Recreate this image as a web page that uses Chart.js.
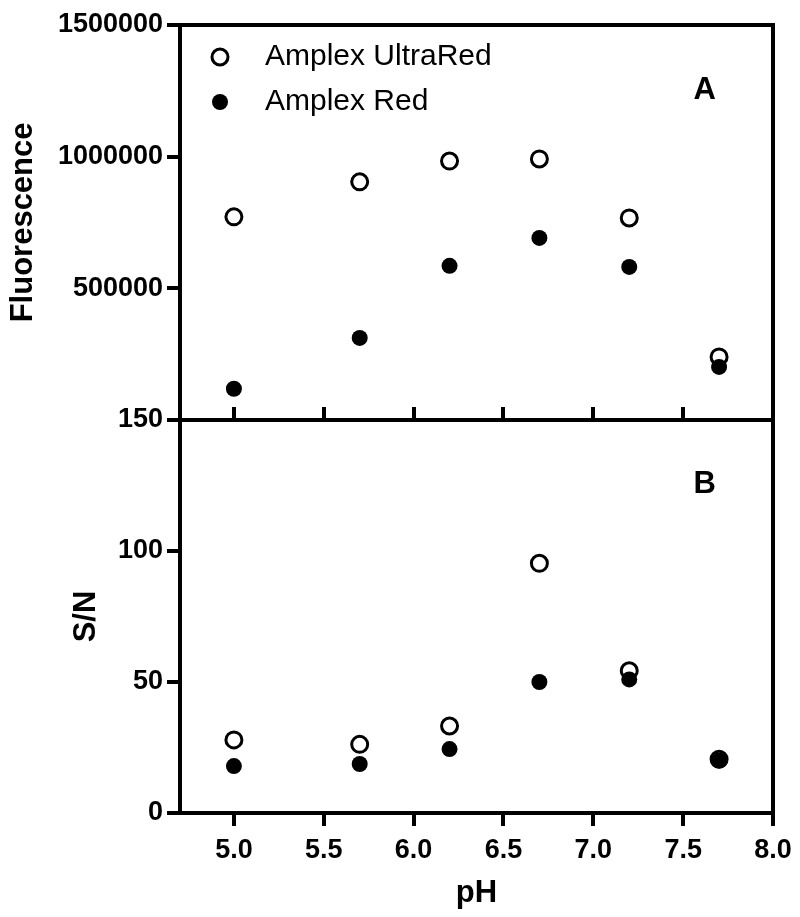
<!DOCTYPE html>
<html>
<head>
<meta charset="utf-8">
<script src="https://cdn.jsdelivr.net/npm/chart.js@4.4.0/dist/chart.umd.min.js"></script>
<style>
  html, body { margin: 0; padding: 0; background: #fff; }
  #wrap { position: relative; width: 800px; height: 917px; overflow: hidden; }
  #wrap canvas { position: absolute; left: 0; }
  #panelA { top: 0; }
  #panelB { top: 395px; }
</style>
</head>
<body>
<div id="wrap">
  <canvas id="panelA" width="800" height="440"></canvas>
  <canvas id="panelB" width="800" height="522"></canvas>
</div>
<script>
// Data
const phValues = [5.0, 5.7, 6.2, 6.7, 7.2, 7.7];
const fluorUltraRed = [771000, 904000, 983000, 991000, 767000, 239000];
const fluorRed = [118000, 311000, 585000, 691000, 581000, 201000];
const snUltraRed = [27.9, 26.2, 33.2, 95.3, 54.3, 20.5];
const snRed = [17.9, 18.7, 24.4, 50.0, 51.0, 20.0];
const seriesLabels = ['Amplex UltraRed', 'Amplex Red'];
const xTicks = [5.0, 5.5, 6.0, 6.5, 7.0, 7.5, 8.0];
const fluorTicks = [0, 500000, 1000000, 1500000];
const snTicks = [0, 50, 100, 150];

const FONT = '"Liberation Sans", Arial, Helvetica, sans-serif';
Chart.defaults.font.family = FONT;
Chart.defaults.color = '#000';

function toPoints(xs, ys) {
    return xs.map((x, i) => ({ x: x, y: ys[i] }));
}

// open circles (UltraRed) go under filled ones (Red)
function makeDatasets(openVals, filledVals) {
    return [
        {
            label: seriesLabels[0],
            data: toPoints(phValues, openVals),
            pointStyle: 'circle',
            pointRadius: 8,
            pointBorderWidth: 3,
            backgroundColor: '#fff',
            borderColor: '#000',
            order: 2
        },
        {
            label: seriesLabels[1],
            data: toPoints(phValues, filledVals),
            pointStyle: 'circle',
            pointRadius: 8,
            pointBorderWidth: 0,
            backgroundColor: '#000',
            borderColor: '#000',
            order: 1
        }
    ];
}

const tickFont = { size: 27, weight: 'bold' };
const titleFont = { size: 31, weight: 'bold' };

// border only axis (used for the frame lines)
function frameAxis(position, min, max, fitProp) {
    return {
        type: 'linear',
        position: position,
        min: min,
        max: max,
        ticks: { display: false },
        grid: { display: false },
        border: { width: 4, color: '#000' },
        afterFit: s => { s[fitProp] = 0; }
    };
}

const panelLabel = {
    id: 'panelLabel',
    afterDraw(chart, args, opts) {
        const a = chart.chartArea;
        const ctx = chart.ctx;
        ctx.save();
        ctx.font = 'bold 31px ' + FONT;
        ctx.fillStyle = '#000';
        ctx.textAlign = 'center';
        ctx.textBaseline = 'middle';
        ctx.fillText(opts.text, a.left + 0.885 * (a.right - a.left), a.top + 0.165 * (a.bottom - a.top));
        ctx.restore();
    }
};

const insideLegend = {
    id: 'insideLegend',
    afterDraw(chart, args, opts) {
        if (!opts.show) return;
        const a = chart.chartArea;
        const ctx = chart.ctx;
        ctx.save();
        chart.data.datasets.forEach((ds, i) => {
            const cy = a.top + 32 + i * 45;
            const cx = a.left + 40;
            ctx.beginPath();
            ctx.arc(cx, cy, ds.pointRadius, 0, Math.PI * 2);
            ctx.fillStyle = ds.backgroundColor;
            ctx.fill();
            if (ds.pointBorderWidth) {
                ctx.lineWidth = ds.pointBorderWidth;
                ctx.strokeStyle = ds.borderColor;
                ctx.stroke();
            }
            ctx.font = '30px ' + FONT;
            ctx.fillStyle = '#000';
            ctx.textAlign = 'left';
            ctx.textBaseline = 'middle';
            ctx.fillText(ds.label, a.left + 85, cy);
        });
        ctx.restore();
    }
};

// Panel A - fluorescence
new Chart(document.getElementById('panelA'), {
    type: 'scatter',
    data: { datasets: makeDatasets(fluorUltraRed, fluorRed) },
    plugins: [panelLabel, insideLegend],
    options: {
        responsive: false,
        animation: false,
        layout: { padding: { top: 25, right: 27, bottom: 20, left: 0 } },
        plugins: {
            legend: { display: false },
            tooltip: { enabled: false },
            panelLabel: { text: 'A' },
            insideLegend: { show: true }
        },
        scales: {
            x: frameAxis('top', 4.7, 8.0, 'height'),
            y: {
                type: 'linear',
                position: 'left',
                min: 0,
                max: 1500000,
                afterBuildTicks: s => { s.ticks = fluorTicks.map(v => ({ value: v })); },
                ticks: {
                    font: tickFont,
                    color: '#000',
                    padding: 4,
                    callback: v => (v === 0 ? '' : String(v))
                },
                grid: { drawOnChartArea: false, tickLength: 13, lineWidth: 4, color: '#000' },
                border: { width: 4, color: '#000' },
                title: { display: true, text: 'Fluorescence', font: titleFont, color: '#000', padding: { top: 5, bottom: 0 } },
                afterFit: s => { s.width = 180; }
            },
            y2: frameAxis('right', 0, 1500000, 'width')
        }
    }
});

// Panel B - signal to noise
new Chart(document.getElementById('panelB'), {
    type: 'scatter',
    data: { datasets: makeDatasets(snUltraRed, snRed) },
    plugins: [panelLabel, insideLegend],
    options: {
        responsive: false,
        animation: false,
        layout: { padding: { top: 12, right: 27, bottom: 0, left: 63 } },
        plugins: {
            legend: { display: false },
            tooltip: { enabled: false },
            panelLabel: { text: 'B' },
            insideLegend: { show: false }
        },
        scales: {
            x: {
                type: 'linear',
                position: 'bottom',
                min: 4.7,
                max: 8.0,
                afterBuildTicks: s => { s.ticks = xTicks.map(v => ({ value: v })); },
                ticks: {
                    font: tickFont,
                    color: '#000',
                    padding: 8,
                    maxRotation: 0,
                    callback: v => Number(v).toFixed(1)
                },
                grid: { drawOnChartArea: false, tickLength: 13, lineWidth: 4, color: '#000' },
                border: { width: 4, color: '#000' },
                title: { display: true, text: 'pH', font: titleFont, color: '#000', padding: { top: 0, bottom: 5 } },
                afterFit: s => { s.height = 104; }
            },
            x2: {
                type: 'linear',
                position: 'top',
                min: 4.7,
                max: 8.0,
                afterBuildTicks: s => { s.ticks = xTicks.map(v => ({ value: v })); },
                ticks: { display: false },
                grid: { drawOnChartArea: false, tickLength: 13, lineWidth: 4, color: '#000' },
                border: { width: 4, color: '#000' },
                afterFit: s => { s.height = 13; }
            },
            y: {
                type: 'linear',
                position: 'left',
                min: 0,
                max: 150,
                afterBuildTicks: s => { s.ticks = snTicks.map(v => ({ value: v })); },
                ticks: { font: tickFont, color: '#000', padding: 4 },
                grid: { drawOnChartArea: false, tickLength: 13, lineWidth: 4, color: '#000' },
                border: { width: 4, color: '#000' },
                title: { display: true, text: 'S/N', font: titleFont, color: '#000', padding: { top: 5, bottom: 0 } },
                afterFit: s => { s.width = 117; }
            },
            y2: frameAxis('right', 0, 150, 'width')
        }
    }
});
</script>
</body>
</html>
